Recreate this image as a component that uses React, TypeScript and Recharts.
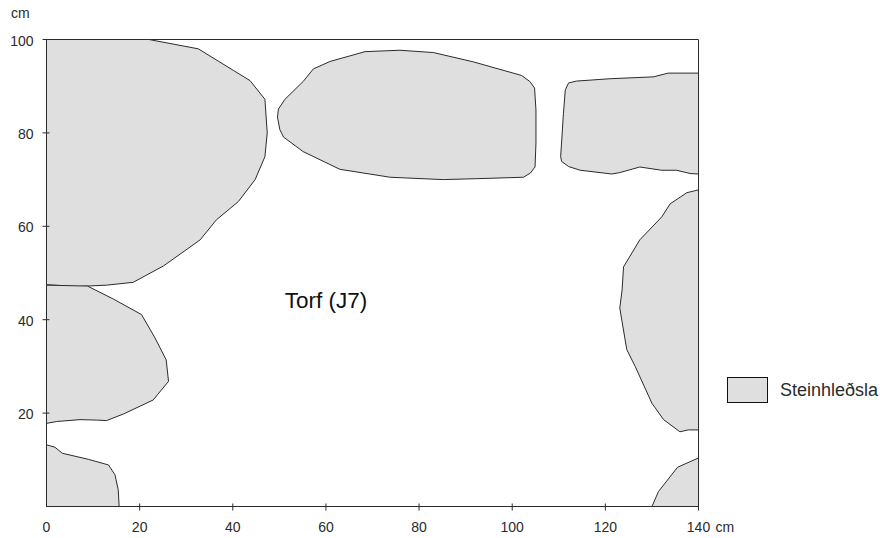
import React from 'react';
import { ScatterChart, Scatter, XAxis, YAxis, ReferenceArea, ReferenceDot, Legend } from 'recharts';

type Pt = [number, number];

const xTicks = [0, 20, 40, 60, 80, 100, 120, 140];
const yTicks = [20, 40, 60, 80, 100];

const legendName = 'Steinhleðsla';
const unit = 'cm';
const areaLabel = 'Torf (J7)';

// outlines, in cm
const topLeft: Pt[] = [
  [0, 100], [22, 100], [32.6, 98], [40.1, 93.4], [43.7, 91.2], [46.9, 87.2], [47.4, 80], [46.9, 74.9],
  [44.8, 70], [41.2, 65.3], [36.5, 61.4], [33, 57.1], [25.1, 51.5], [18.6, 48], [12.9, 47.4], [6.5, 47.1],
  [0, 47.5], [0, 100],
];
const topMiddle: Pt[] = [
  [49.8, 85.1], [49.6, 83.4], [50.1, 80.7], [50.9, 79.1], [55.1, 76], [63, 72.2], [73.8, 70.5], [85.2, 70],
  [92.4, 70.2], [102.4, 70.5], [103.9, 71.4], [104.9, 72.7], [105.1, 77.8], [105.1, 84.9], [104.8, 89.6],
  [103.8, 91], [102, 92.3], [91.7, 95.2], [83.1, 97.2], [75.9, 97.7], [68.4, 97.4], [60.9, 95.3], [57.3, 93.7],
  [55.1, 91], [51.2, 87.2], [49.8, 85.1],
];
const topRight: Pt[] = [
  [140, 92.8], [133.5, 92.8], [130.3, 92], [121, 91.6], [113.8, 91.1], [112.1, 90.7], [111.4, 89.2], [111, 84.2],
  [110.4, 74.9], [110.6, 73.9], [112.1, 72.8], [114.6, 72], [121.4, 71.2], [123.1, 71.5], [127.4, 72.7],
  [132.1, 72], [135.3, 72], [138.2, 71.3], [140, 71.2], [140, 92.8],
];
const rightMiddle: Pt[] = [
  [140, 67.8], [137.5, 67.2], [133.9, 64.8], [132.1, 62], [127.4, 57.1], [123.9, 51.3], [123.6, 46.4],
  [123.1, 42.5], [124.6, 33.6], [126.4, 30], [130, 22.1], [132.5, 18.6], [136, 16], [137.8, 16.4], [140, 16.4],
  [140, 67.8],
];
const leftMiddle: Pt[] = [
  [0, 47.4], [8.8, 47.2], [14.4, 44.4], [20.4, 41.1], [23.3, 36.1], [25.7, 31.4], [26.2, 26.8], [22.9, 22.8],
  [16.5, 19.8], [12.9, 18.4], [10.8, 18.5], [7.2, 18.6], [2.2, 18.2], [0, 17.8], [0, 47.4],
];
const bottomLeft: Pt[] = [
  [0, 13.2], [1.8, 12.7], [3.4, 11.4], [9, 10.1], [13.3, 8.9], [14.7, 6.8], [15.4, 3.6], [15.6, 0], [0, 0], [0, 13.2],
];
const bottomRight: Pt[] = [
  [130, 0], [131.4, 3.2], [135.5, 8.4], [140, 10.4], [140, 0], [130, 0],
];

const outlines = [topLeft, topMiddle, topRight, rightMiddle, leftMiddle, bottomLeft, bottomRight];

const INK = '#2b2b2b';
const STONE = '#dfdfdf';
const FONT = '"Liberation Sans", Arial, sans-serif';

const toRows = (pts: Pt[]) => pts.map(([x, y]) => ({ x, y }));

const XTick = ({ x, y, payload }: any) => (
  <g>
    {payload.value > 0 && <line x1={x} x2={x} y1={y - 3} y2={y + 4} stroke={INK} />}
    <text x={x} y={y + 25} textAnchor="middle" fontSize={14} fontFamily={FONT} fill={INK}>
      {payload.value}
    </text>
    {payload.value === 140 && (
      <text x={x + 17} y={y + 25} fontSize={14} fontFamily={FONT} fill={INK}>
        {unit}
      </text>
    )}
  </g>
);

const YTick = ({ x, y, payload }: any) => (
  <g>
    <line x1={x - 4} x2={x + 3} y1={y} y2={y} stroke={INK} />
    <text x={x - 13} y={y + 6} textAnchor="end" fontSize={14} fontFamily={FONT} fill={INK}>
      {payload.value}
    </text>
    {payload.value === 100 && (
      <text x={11} y={y - 22} fontSize={14} fontFamily={FONT} fill={INK}>
        {unit}
      </text>
    )}
  </g>
);

const LegendBox = ({ payload }: any) => (
  <div style={{ display: 'flex', alignItems: 'center', fontFamily: FONT, fontSize: 18, color: INK }}>
    <span style={{ width: 39, height: 24, background: STONE, border: '1px solid #111', marginRight: 12 }} />
    <span>{payload?.[0]?.value}</span>
  </div>
);

export default function App() {
  return (
    <div style={{ position: 'absolute', left: 0, top: 0, background: '#fff' }}>
      <ScatterChart width={880} height={538} margin={{ top: 39.5, right: 181.5, bottom: 0, left: 0.5 }}>
        <XAxis
          type="number"
          dataKey="x"
          domain={[0, 140]}
          ticks={xTicks}
          interval={0}
          tickSize={0}
          tickMargin={0}
          tickLine={false}
          tick={XTick}
          stroke={INK}
          height={31.5}
        />
        <YAxis
          type="number"
          dataKey="y"
          domain={[0, 100]}
          ticks={yTicks}
          interval={0}
          tickSize={0}
          tickMargin={0}
          tickLine={false}
          tick={YTick}
          stroke={INK}
          width={46}
        />
        {outlines.map((pts, i) => (
          <Scatter
            key={i}
            name={legendName}
            data={toRows(pts)}
            legendType={i === 0 ? 'rect' : 'none'}
            shape={() => <g />}
            line={{ stroke: INK, strokeWidth: 1, fill: STONE }}
            lineJointType="linear"
            isAnimationActive={false}
          />
        ))}
        <ReferenceArea x1={0} x2={140} y1={0} y2={100} fill="none" stroke={INK} strokeWidth={1} />
        <ReferenceDot
          x={60}
          y={44.3}
          r={0}
          fill="none"
          stroke="none"
          label={{ value: areaLabel, position: 'center', fontSize: 22.5, fontFamily: FONT, fill: '#111' }}
        />
        <Legend
          layout="horizontal"
          verticalAlign="middle"
          align="center"
          content={LegendBox}
          wrapperStyle={{ position: 'absolute', left: 727, top: 377, width: 'auto' }}
        />
      </ScatterChart>
    </div>
  );
}
